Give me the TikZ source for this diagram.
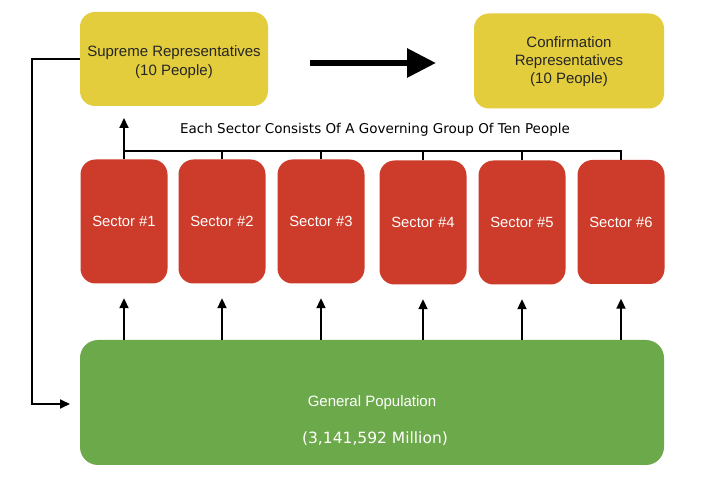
\documentclass[tikz,border=0pt]{standalone}
\usepackage{fontspec}
\setmainfont{Liberation Sans}
\newfontfamily\dvs{DejaVu Sans}
\usetikzlibrary{arrows.meta}
\definecolor{boxyellow}{HTML}{E3CD3D}
\definecolor{boxred}{HTML}{CD3B2A}
\definecolor{boxgreen}{HTML}{6CA94A}
\tikzset{
  ybox/.style={fill=boxyellow, draw=none, rounded corners=15pt, minimum width=188pt, minimum height=94pt, inner sep=0pt},
  ytext/.style={align=center, text=black!85, font=\fontsize{15}{19}\selectfont, inner sep=0pt},
  sbox/.style={fill=boxred, draw=none, rounded corners=15pt, minimum width=87pt, minimum height=124pt, text=white, font=\fontsize{14.8}{17}\selectfont, inner sep=0pt},
  gbox/.style={fill=boxgreen, draw=none, rounded corners=18pt, minimum width=584pt, minimum height=125pt, inner sep=0pt},
  conn/.style={draw=black, line width=2pt},
  arr/.style={conn, -{Triangle[width=9pt,length=10pt]}},
  bigarr/.style={draw=black, line width=6pt, -{Triangle[width=28pt,length=29pt]}}
}
\begin{document}
\begin{tikzpicture}[x=1pt,y=-1pt]
\useasboundingbox (0,0) rectangle (724,481);
\fill[white] (0,0) rectangle (724,481);
\node[ybox] (sup) at (174,59) {};
\node[ytext] (supT) at (174,62) {Supreme Representatives\\(10 People)};
\node[ybox, minimum width=190pt, minimum height=95pt] (conf) at (569,61) {};
\node[ytext, font=\fontsize{15}{18}\selectfont] (confT) at (569,62) {Confirmation\\Representatives\\(10 People)};
\coordinate (bigA) at (310,63);
\coordinate (bigB) at (436,63);
\draw[bigarr] (bigA) -- (bigB);
\node[sbox] (s1) at (124,221.5) {Sector \#1};
\node[sbox] (s2) at (222,221.5) {Sector \#2};
\node[sbox] (s3) at (321,221.5) {Sector \#3};
\node[sbox] (s4) at (423,222.5) {Sector \#4};
\node[sbox] (s5) at (522,222.5) {Sector \#5};
\node[sbox] (s6) at (621,222) {Sector \#6};
\node[gbox] (gen) at (372,402.5) {};
\node[text=white, font=\fontsize{15}{17}\selectfont] (genT) at (372,403) {General Population};
\node[text=white, font=\dvs\fontsize{15.5}{18}\selectfont] (genN) at (375,439) {(3,141,592 Million)};
\node[font=\dvs\fontsize{13.5}{16}\selectfont] (cap) at (375,130) {Each Sector Consists Of A Governing Group Of Ten People};
\coordinate (busL) at (124,151);
\coordinate (busR) at (621,151);
\coordinate (upTip) at (124,118);
\draw[conn, line cap=rect] (busL) -- (busR);
\foreach \s in {s1,s2,s3,s4,s5,s6}{
  \draw[conn] (\s.north) -- (\s.north |- busL);
  \draw[arr] (gen.north -| \s.south) -- ([yshift=-14.5pt]\s.south);
}
\draw[arr] (busL) -- (upTip);
\coordinate (genIn) at (70,404);
\draw[arr] (sup.west) -- (32,59) |- (genIn);
\end{tikzpicture}
\end{document}
